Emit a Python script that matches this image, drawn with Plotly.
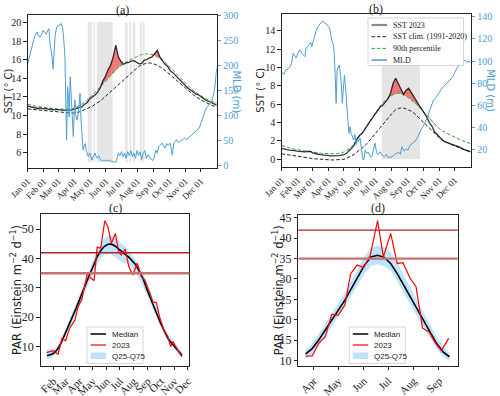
"""
SST / MLD time series (a, b) and PAR climatology (c, d)
"""

import numpy as np
import pandas as pd
import plotly.graph_objects as go

SERIF = "Liberation Serif"
SANS = "DejaVu Sans"
MLD_COLOR = "#4d9dd5"
DASH = "3.5px,2px"
W, H = 500, 396

# ---- panel (a): SST on a 5-day grid (day of year 2023) ----
grid_days = list(range(0, 366, 5))

sst_a = [11.0, 10.95, 10.85, 10.8, 10.75, 10.8, 10.7, 10.75, 10.65, 10.7,
         10.6, 10.65, 10.6, 10.6, 10.55, 10.6, 10.55, 10.6, 10.7, 10.75,
         10.85, 10.95, 11.2, 11.4, 11.8, 12.0, 12.2, 12.5, 12.95, 13.7,
         14.2, 14.9, 15.4, 16.3, 17.55, 16.3, 15.8, 15.5, 15.65, 15.7,
         15.85, 15.9, 15.7, 15.55, 15.6, 15.95, 16.0, 16.2, 16.3, 16.6,
         17.0, 16.3, 15.9, 15.5, 15.3, 14.8, 14.6, 14.3, 14.0, 13.8,
         13.5, 13.1, 12.9, 12.7, 12.5, 12.3, 12.2, 12.0, 11.8, 11.6,
         11.5, 11.4, 11.25, 11.1]
clim_a = [10.7, 10.67, 10.63, 10.6, 10.57, 10.53, 10.5, 10.47, 10.45, 10.42,
          10.4, 10.37, 10.35, 10.32, 10.3, 10.28, 10.26, 10.25, 10.27, 10.32,
          10.4, 10.5, 10.62, 10.75, 10.88, 11.0, 11.2, 11.35, 11.55, 11.8,
          12.05, 12.3, 12.55, 12.8, 13.05, 13.35, 13.6, 13.9, 14.15, 14.4,
          14.65, 14.9, 15.1, 15.3, 15.45, 15.55, 15.62, 15.65, 15.6, 15.5,
          15.4, 15.25, 15.05, 14.85, 14.6, 14.35, 14.1, 13.85, 13.6, 13.35,
          13.1, 12.85, 12.6, 12.4, 12.2, 12.0, 11.8, 11.65, 11.5, 11.35,
          11.2, 11.1, 11.0, 10.9]
p90_a = [11.2, 11.1, 11.05, 11.0, 10.95, 10.9, 10.85, 10.8, 10.78, 10.75,
         10.72, 10.7, 10.68, 10.66, 10.65, 10.65, 10.66, 10.7, 10.78, 10.9,
         11.05, 11.2, 11.4, 11.65, 11.9, 12.2, 12.5, 12.8, 13.1, 13.45,
         13.75, 14.05, 14.35, 14.65, 14.9, 15.15, 15.35, 15.55, 15.75, 15.9,
         16.05, 16.2, 16.35, 16.45, 16.55, 16.6, 16.62, 16.6, 16.55, 16.45,
         16.3, 16.15, 15.95, 15.7, 15.45, 15.2, 14.9, 14.6, 14.3, 14.0,
         13.7, 13.4, 13.15, 12.9, 12.65, 12.45, 12.25, 12.05, 11.9, 11.75,
         11.6, 11.5, 11.42, 11.35]

mld_a_days = [0, 3, 6, 9, 12, 15, 18, 21, 24, 27, 30, 33, 36, 39, 41, 43, 46, 49, 51, 53,
              56, 59, 62, 65, 67, 69, 71, 72, 75, 77, 79, 80, 82, 84, 85, 87, 88, 90, 91, 93,
              95, 98, 101, 103, 105, 107, 109, 111, 113, 115, 117, 120, 122, 124, 127, 130, 132, 134, 137, 140,
              144, 148, 152, 156, 160, 164, 168, 171, 173, 175, 178, 181, 184, 187, 190, 193, 196, 199, 202, 205,
              208, 211, 214, 217, 220, 223, 226, 229, 232, 235, 238, 241, 244, 247, 250, 253, 256, 259, 262, 265,
              268, 271, 275, 279, 282, 285, 288, 291, 295, 299, 303, 307, 311, 315, 319, 323, 327, 331, 335, 339,
              343, 347, 351, 355, 358, 361, 363, 365]
mld_a = [203, 215, 232, 240, 252, 262, 266, 258, 256, 262, 270, 265, 262, 270, 273, 243, 225, 193, 230, 260,
         276, 278, 280, 283, 275, 260, 230, 210, 51, 157, 130, 97, 177, 140, 111, 80, 58, 110, 131, 100,
         91, 104, 144, 90, 58, 31, 40, 44, 30, 22, 18, 25, 15, 11, 20, 25, 18, 15, 20, 12,
         10, 11, 9, 11, 9, 8, 7, 8, 15, 25, 20, 28, 18, 25, 15, 28, 20, 30, 18, 25,
         15, 30, 20, 28, 12, 25, 30, 14, 22, 18, 12, 10, 15, 31, 25, 38, 41, 45, 40, 35,
         44, 40, 45, 21, 45, 48, 52, 46, 50, 52, 55, 52, 56, 60, 62, 66, 70, 75, 86, 98,
         111, 118, 122, 128, 138, 155, 175, 195]

# marine heatwave periods (start day, end day)
mhw_a_start = [116, 127, 133.5, 188, 196.5, 203, 217, 222]
mhw_a_end = [124, 130, 164, 193, 200, 207.5, 220.5, 225.5]

# ---- panel (b) ----
sst_b = [1.2, 1.1, 1.05, 1.0, 1.0, 0.95, 0.9, 0.85, 0.85, 0.8,
         0.85, 0.85, 0.7, 0.6, 0.55, 0.5, 0.45, 0.4, 0.4, 0.38,
         0.38, 0.37, 0.4, 0.45, 0.5, 0.65, 0.9, 1.2, 1.55, 2.2,
         2.6, 2.8, 3.2, 3.7, 4.1, 4.5, 4.9, 5.3, 5.7, 5.9,
         6.3, 6.6, 7.2, 8.3, 8.85, 8.2, 7.6, 7.1, 7.5, 7.75,
         7.3, 6.8, 6.4, 5.9, 5.5, 5.1, 4.6, 4.0, 3.6, 3.0,
         2.7, 2.35, 2.1, 1.9, 1.8, 1.67, 1.6, 1.5, 1.4, 1.3,
         1.1, 1.0, 0.9, 0.8]
clim_b = [0.6, 0.55, 0.5, 0.45, 0.4, 0.35, 0.3, 0.27, 0.23, 0.2,
          0.15, 0.12, 0.08, 0.05, 0.02, 0.0, -0.02, -0.04, -0.06, -0.07,
          -0.07, -0.06, -0.04, -0.02, 0.0, 0.1, 0.22, 0.38, 0.55, 0.75,
          0.95, 1.2, 1.45, 1.75, 2.05, 2.4, 2.75, 3.1, 3.45, 3.8,
          4.15, 4.5, 4.85, 5.15, 5.4, 5.55, 5.6, 5.6, 5.5, 5.4,
          5.25, 5.05, 4.8, 4.55, 4.3, 4.0, 3.7, 3.4, 3.1, 2.8,
          2.55, 2.3, 2.1, 1.95, 1.8, 1.7, 1.55, 1.45, 1.3, 1.2,
          1.1, 0.98, 0.88, 0.8]
p90_b = [1.5, 1.4, 1.3, 1.22, 1.15, 1.1, 1.05, 1.0, 0.95, 0.9,
         0.85, 0.8, 0.77, 0.73, 0.7, 0.67, 0.65, 0.62, 0.6, 0.6,
         0.6, 0.62, 0.65, 0.7, 0.8, 0.95, 1.15, 1.4, 1.75, 2.1,
         2.5, 2.9, 3.3, 3.75, 4.2, 4.6, 5.0, 5.4, 5.8, 6.15,
         6.45, 6.7, 6.9, 7.05, 7.15, 7.2, 7.15, 7.05, 6.9, 6.7,
         6.5, 6.25, 6.0, 5.7, 5.4, 5.1, 4.75, 4.4, 4.1, 3.8,
         3.5, 3.3, 3.1, 2.95, 2.8, 2.65, 2.5, 2.35, 2.2, 2.1,
         2.0, 1.9, 1.8, 1.7]

mld_b_days = [0, 4, 8, 12, 16, 19, 22, 25, 28, 32, 35, 39, 42, 45, 47, 50, 53, 56, 58, 61,
              64, 67, 70, 74, 77, 80, 84, 88, 91, 93, 95, 97, 99, 101, 103, 105, 107, 109, 111, 113,
              115, 117, 119, 121, 123, 125, 128, 130, 132, 134, 137, 139, 141, 144, 146, 148, 151, 153, 155, 157,
              159, 161, 164, 167, 171, 174, 177, 180, 183, 186, 190, 194, 198, 202, 206, 209, 213, 218, 222, 226,
              229, 232, 236, 240, 244, 248, 252, 256, 261, 265, 269, 274, 278, 282, 286, 289, 293, 297, 301, 306,
              310, 314, 319, 325, 330, 334, 338, 342, 346, 351, 355, 358, 362, 365]
mld_b = [90, 88, 92, 93, 95, 98, 107, 105, 103, 108, 110, 107, 105, 104, 112, 113, 115, 117, 113, 119,
         124, 128, 131, 134, 135.5, 136, 134, 132, 131, 128, 122, 118, 116, 110, 90, 62, 92, 95, 96.5, 90,
         80, 62, 75, 87.5, 78, 60, 45, 35, 41, 35, 32, 29, 34, 25, 30, 27.5, 31, 23, 17, 11,
         12, 20, 17, 18, 14, 14, 20, 26, 18, 16, 18.5, 15, 14, 16, 13, 13.4, 14, 16, 17, 18,
         16, 23, 19, 21, 20, 24.5, 26, 27, 30.5, 35, 38, 42.5, 46, 50, 56, 60, 65, 67, 70, 74,
         76, 78, 80, 83, 86, 90, 93.5, 96, 98, 101, 100, 99, 100, 98]

mhw_b_start = [193]
mhw_b_end = [267]

# ---- panel (c): PAR ----
par_c_days = [17, 25, 33, 41, 49, 57, 65, 73, 81, 89, 97, 105, 113, 121, 129, 137, 145, 153, 161, 169,
              177, 185, 193, 201, 209, 217, 225, 233, 241, 249, 257, 265, 273, 281, 289, 297, 305, 313, 321]
median_c = [7.0, 7.2, 7.8, 9.2, 11.3, 14.0, 16.7, 19.4, 22.5, 25.5, 28.7, 31.6, 34.6, 37.4, 40.3, 42.5, 44.0, 44.8, 45.0, 44.4,
            43.3, 42.3, 41.4, 40.5, 39.3, 37.8, 35.6, 33.2, 29.8, 27.0, 24.0, 20.8, 17.8, 15.0, 12.8, 11.2, 9.8, 8.4, 7.0]
q25_c = [5.6, 6.0, 7.0, 8.5, 10.4, 13.0, 15.5, 18.2, 21.2, 24.0, 27.0, 29.8, 32.6, 35.3, 37.8, 39.8, 41.2, 41.8, 41.6, 40.6,
         39.6, 38.8, 38.5, 37.8, 36.6, 35.0, 33.0, 30.6, 27.8, 25.2, 22.4, 19.4, 16.6, 14.0, 12.0, 10.4, 9.0, 7.5, 6.0]
q75_c = [9.0, 9.2, 9.0, 10.4, 12.6, 15.3, 18.0, 21.0, 24.2, 27.3, 30.6, 33.8, 36.8, 39.8, 42.6, 45.0, 46.8, 47.6, 47.8, 47.2,
         46.2, 45.0, 44.0, 42.8, 41.2, 39.6, 37.6, 35.2, 32.0, 28.8, 25.8, 22.6, 19.4, 16.6, 14.4, 12.6, 11.2, 9.6, 8.0]
par23_c_days = [16, 24, 31, 42, 51, 59, 68, 80, 87, 95, 102, 108, 116, 123, 130, 138, 147, 154, 162, 171,
                178, 184, 193, 201, 210, 220, 229, 237, 248, 255, 263, 270, 280, 289, 295, 300, 310, 320]
par23_c = [7.96, 8.4, 8.6, 7.4, 12.85, 12.0, 16.3, 19.1, 23.6, 25.9, 30.4, 35.0, 33.3, 32.5, 43.9, 43.5, 52.9, 50.9, 45.2, 48.6,
           42.4, 41.2, 43.2, 37.3, 34.4, 38.4, 33.85, 32.7, 28.4, 25.3, 25.0, 20.2, 15.45, 13.4, 10.0, 11.7, 9.1, 6.6]

# ---- panel (d): PAR ----
par_d_days = [80, 88, 96, 104, 112, 120, 128, 136, 144, 152, 160, 168, 176, 184, 192, 200, 208, 216, 224, 232, 240, 248, 256]
median_d = [11.6, 12.9, 15.0, 17.4, 19.9, 22.3, 24.8, 27.7, 30.5, 33.4, 35.4, 35.8, 35.3, 33.8, 31.3, 28.5, 25.6, 22.8, 19.9, 17.0, 14.2, 12.1, 10.9]
q25_d = [10.5, 11.6, 13.6, 15.9, 18.4, 20.8, 23.3, 26.0, 28.6, 31.3, 33.2, 33.6, 33.2, 32.0, 29.5, 26.5, 23.6, 20.9, 18.2, 15.5, 12.9, 11.0, 9.8]
q75_d = [12.6, 14.2, 16.5, 19.0, 21.5, 24.0, 26.6, 29.6, 32.6, 35.6, 37.6, 38.2, 37.8, 36.6, 34.0, 31.0, 28.0, 25.0, 21.9, 18.8, 15.8, 13.4, 12.0]
par23_d_days = [80, 88, 96, 104, 112, 120, 128, 135, 143, 151, 159, 168, 175, 184, 192, 199, 208, 215, 223, 231, 239, 246, 255]
par23_d = [11.05, 11.1, 14.2, 15.8, 21.3, 21.1, 23.6, 31.3, 33.4, 32.8, 35.8, 44.3, 35.4, 41.2, 33.8, 34.0, 30.1, 28.1, 17.9, 17.0, 14.2, 12.4, 15.4]

par_thresholds = [42, 35]

sst_legend_names = ["SST 2023", "SST clim. (1991-2020)", "90th percentile", "MLD"]
par_legend_names = ["Median", "2023", "Q25-Q75"]


def to_dates(days):
    return pd.Timestamp("2023-01-01") + pd.to_timedelta(np.asarray(days, dtype=float), unit="D")


fig = go.Figure()


def add_sst_panel(xa, ya, ya2, sst, clim, p90, mld_days, mld):
    x = to_dates(grid_days)
    upper = np.maximum(np.array(sst), np.array(p90))
    # red fill where 2023 exceeds the 90th percentile
    fig.add_trace(go.Scatter(x=x, y=p90, mode="lines", line=dict(width=0),
                             xaxis=xa, yaxis=ya, hoverinfo="skip"))
    fig.add_trace(go.Scatter(x=x, y=upper, mode="lines", line=dict(width=0),
                             fill="tonexty", fillcolor="rgba(240,90,90,0.8)",
                             xaxis=xa, yaxis=ya, hoverinfo="skip"))
    fig.add_trace(go.Scatter(x=x, y=clim, mode="lines", name=sst_legend_names[1],
                             line=dict(color="#222", width=1, dash=DASH), xaxis=xa, yaxis=ya))
    fig.add_trace(go.Scatter(x=x, y=p90, mode="lines", name=sst_legend_names[2],
                             line=dict(color="#3aa63a", width=1, dash=DASH), xaxis=xa, yaxis=ya))
    fig.add_trace(go.Scatter(x=x, y=sst, mode="lines", name=sst_legend_names[0],
                             line=dict(color="rgba(0,0,0,0.8)", width=1.3), xaxis=xa, yaxis=ya))
    fig.add_trace(go.Scatter(x=to_dates(mld_days), y=mld, mode="lines", name=sst_legend_names[3],
                             line=dict(color=MLD_COLOR, width=1), xaxis=xa, yaxis=ya2))


def add_par_panel(xa, ya, days, median, q25, q75, days23, par23):
    x = to_dates(days)
    fig.add_trace(go.Scatter(x=x, y=q25, mode="lines", line=dict(width=0),
                             xaxis=xa, yaxis=ya, hoverinfo="skip"))
    fig.add_trace(go.Scatter(x=x, y=q75, mode="lines", line=dict(width=0), name=par_legend_names[2],
                             fill="tonexty", fillcolor="rgba(135,206,250,0.55)", xaxis=xa, yaxis=ya))
    fig.add_trace(go.Scatter(x=x, y=median, mode="lines", name=par_legend_names[0],
                             line=dict(color="black", width=1.6), xaxis=xa, yaxis=ya))
    fig.add_trace(go.Scatter(x=to_dates(days23), y=par23, mode="lines", name=par_legend_names[1],
                             line=dict(color="red", width=1.2), xaxis=xa, yaxis=ya))


add_sst_panel("x", "y", "y2", sst_a, clim_a, p90_a, mld_a_days, mld_a)
add_sst_panel("x2", "y3", "y4", sst_b, clim_b, p90_b, mld_b_days, mld_b)
add_par_panel("x3", "y5", par_c_days, median_c, q25_c, q75_c, par23_c_days, par23_c)
add_par_panel("x4", "y6", par_d_days, median_d, q25_d, q75_d, par23_d_days, par23_d)

# shaded heatwave periods and PAR thresholds
shapes = []
for s, e in zip(mhw_a_start, mhw_a_end):
    shapes.append(dict(type="rect", xref="x", yref="y", x0=to_dates([s])[0], x1=to_dates([e])[0],
                       y0=5.0, y1=20.05, fillcolor="rgba(170,170,170,0.3)", line_width=0, layer="below"))
for s, e in zip(mhw_b_start, mhw_b_end):
    shapes.append(dict(type="rect", xref="x2", yref="y3", x0=to_dates([s])[0], x1=to_dates([e])[0],
                       y0=0.0, y1=15.0, fillcolor="rgba(170,170,170,0.3)", line_width=0, layer="below"))
for xr, yr in [("x3", "y5"), ("x4", "y6")]:
    shapes.append(dict(type="line", xref=xr + " domain", yref=yr, x0=0, x1=1,
                       y0=par_thresholds[0], y1=par_thresholds[0], line=dict(color="#b22222", width=1.3)))
    shapes.append(dict(type="line", xref=xr + " domain", yref=yr, x0=0, x1=1,
                       y0=par_thresholds[1], y1=par_thresholds[1], line=dict(color="#c87070", width=2.3)))


# hand-drawn legend boxes (pixel positions -> paper)
def px(x):
    return x / W


def py(y):
    return 1 - y / H


legend_notes = []


def legend_box(x0, y0, x1, y1):
    shapes.append(dict(type="rect", xref="paper", yref="paper", x0=px(x0), x1=px(x1),
                       y0=py(y0), y1=py(y1), fillcolor="rgba(255,255,255,0.9)",
                       line=dict(color="#cccccc", width=0.8)))


def legend_line(x0, x1, y, color, width, dash="solid"):
    shapes.append(dict(type="line", xref="paper", yref="paper", x0=px(x0), x1=px(x1),
                       y0=py(y), y1=py(y), line=dict(color=color, width=width, dash=dash)))


def legend_text(text, x, y, family, size):
    legend_notes.append(dict(text=text, x=px(x), y=py(y), xref="paper", yref="paper",
                             showarrow=False, xanchor="left", yanchor="middle",
                             font=dict(family=family, size=size, color="#222")))


# (b) legend
legend_box(368, 18, 463.5, 65.5)
sst_styles = [("#8a8a8a", 2.2, "solid"), ("#222", 1, DASH), ("#3aa63a", 1, DASH), (MLD_COLOR, 1.5, "solid")]
for i, (name, (c, w, d)) in enumerate(zip(sst_legend_names, sst_styles)):
    yy = 25 + i * 11.7
    legend_line(371.5, 387, yy, c, w, d)
    legend_text(name, 390.5, yy, SERIF, 8)

# (c) and (d) legends
for bx, by in [(87, 327), (349.3, 327)]:
    legend_box(bx, by, bx + 56, by + 36.5)
    legend_line(bx + 3.5, bx + 19, by + 7, "black", 1.5)
    legend_line(bx + 3.5, bx + 19, by + 18, "red", 1.2)
    shapes.append(dict(type="rect", xref="paper", yref="paper", x0=px(bx + 3.5), x1=px(bx + 19),
                       y0=py(by + 25.5), y1=py(by + 32), fillcolor="rgba(135,206,250,0.55)", line_width=0))
    for i, name in enumerate(par_legend_names):
        legend_text(name, bx + 23, by + 7 + i * 11.2, "Liberation Sans", 8)

tick_font = dict(family=SERIF, size=10, color="#222")
base = dict(showline=True, linecolor="#222", linewidth=1, mirror=True, ticks="outside",
            ticklen=3.5, tickwidth=1, tickcolor="#222", showgrid=False, zeroline=False,
            tickfont=tick_font, automargin=False)


def xdate(domain, anchor, rng, fmt, size):
    d = dict(base, domain=domain, anchor=anchor, type="date", range=rng, dtick="M1",
             tick0="2023-01-01", tickformat=fmt, tickangle=-45)
    d["tickfont"] = dict(tick_font, size=size)
    return d


def yright(anchor, overlay, rng, dtick):
    return dict(anchor=anchor, overlaying=overlay, side="right", range=rng, dtick=dtick,
                showline=False, showgrid=False, zeroline=False, ticks="outside", ticklen=3.5,
                tickcolor=MLD_COLOR, automargin=False,
                tickfont=dict(family=SERIF, size=10, color=MLD_COLOR))


fig.update_layout(
    width=W, height=H,
    margin=dict(l=0, r=0, t=0, b=0, autoexpand=False),
    paper_bgcolor="white", plot_bgcolor="white",
    font=dict(family=SERIF, size=10, color="#222"),
    showlegend=False,
    xaxis=xdate([0.0554, 0.4334], "y", ["2023-01-01", "2023-12-31 18:00"], "%b %d", 9),
    yaxis=dict(base, domain=[0.5758, 0.9621], anchor="x", range=[4.35, 20.8], dtick=2),
    yaxis2=yright("x", "y", [-4.6, 300], 50),
    xaxis2=xdate([0.5634, 0.9414], "y3", ["2023-01-01", "2023-12-31 18:00"], "%b %d", 9),
    yaxis3=dict(base, domain=[0.5783, 0.9646], anchor="x2", range=[-0.84, 15.85], dtick=2),
    yaxis4=yright("x2", "y3", [4.7, 142.4], 20),
    xaxis3=xdate([0.0814, 0.3786], "y5", ["2023-01-04", "2023-12-04"], "%b", 11),
    yaxis5=dict(base, domain=[0.0758, 0.4596], anchor="x3", range=[3.4, 55.2], dtick=10,
                tickfont=dict(tick_font, size=12)),
    xaxis4=xdate([0.5966, 0.9154], "y6", ["2023-03-13", "2023-09-24"], "%b", 11),
    yaxis6=dict(base, domain=[0.0765, 0.4571], anchor="x4", range=[8.7, 45.7], dtick=5,
                tickfont=dict(tick_font, size=12)),
    shapes=shapes,
)

notes = [
    ("(a)", 0.2444, 0.9735, 0, SERIF, 12, "#222"),
    ("(b)", 0.7524, 0.9765, 0, SERIF, 12, "#222"),
    ("(c)", 0.23, 0.476, 0, SERIF, 12, "#222"),
    ("(d)", 0.756, 0.476, 0, SERIF, 12, "#222"),
    ("SST (° C)", 0.016, 0.769, -90, SANS, 10, "#222"),
    ("MLD (m)", 0.474, 0.769, 90, SANS, 10, MLD_COLOR),
    ("SST (° C)", 0.522, 0.771, -90, SANS, 10, "#222"),
    ("MLD (m)", 0.981, 0.771, 90, SANS, 10, MLD_COLOR),
    ("PAR (Einstein m<sup>−2</sup> d<sup>−1</sup>)", 0.034, 0.2677, -90, SANS, 11.5, "#222"),
    ("PAR (Einstein m<sup>−2</sup> d<sup>−1</sup>)", 0.556, 0.267, -90, SANS, 11.5, "#222"),
]
fig.update_layout(annotations=[
    dict(text=t, x=x, y=y, xref="paper", yref="paper", showarrow=False, textangle=a,
         xanchor="center", yanchor="middle", font=dict(family=f, size=s, color=c))
    for t, x, y, a, f, s, c in notes
] + legend_notes)

# the page body has a default 8px margin; drop it so the figure sits at the window origin
fig.write_html("out.html", config={"displayModeBar": False},
               post_script="document.body.style.margin = '0';")
